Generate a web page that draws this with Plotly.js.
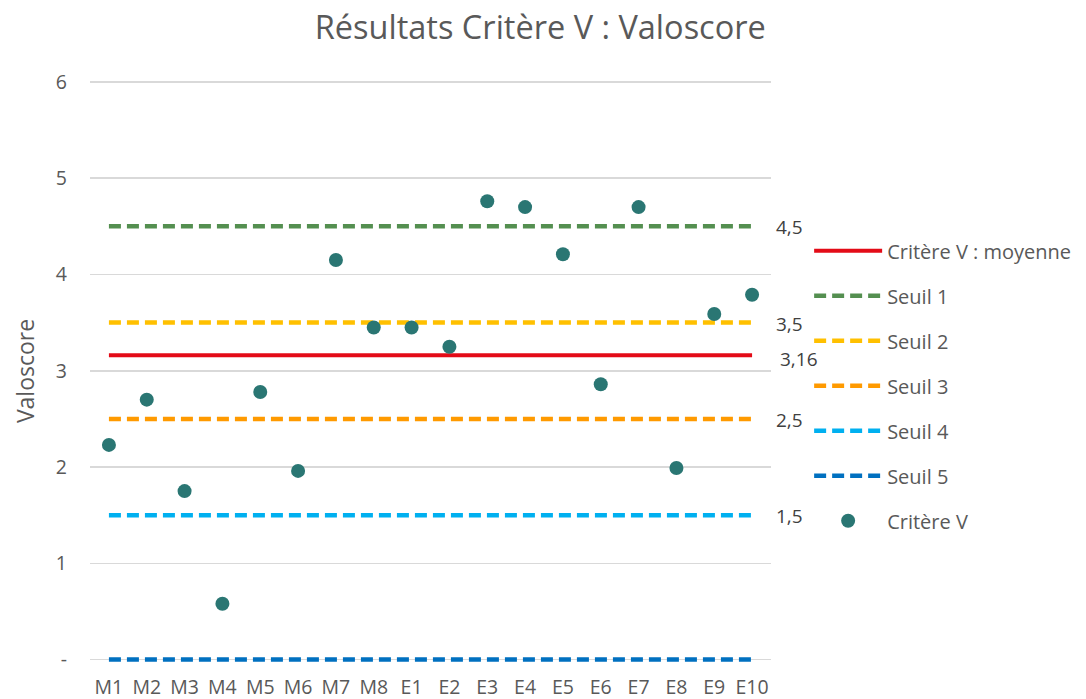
<!DOCTYPE html>
<html>
<head>
<meta charset="utf-8">
<script src="https://cdn.plot.ly/plotly-3.0.1.min.js"></script>
<style>html,body{margin:0;padding:0;background:#fff}#chart{width:1086px;height:699px}</style>
</head>
<body>
<div id="chart"></div>
<script>
const categories = ["M1","M2","M3","M4","M5","M6","M7","M8","E1","E2","E3","E4","E5","E6","E7","E8","E9","E10"];
const critereV = [2.23,2.70,1.75,0.58,2.78,1.96,4.15,3.45,3.45,3.25,4.76,4.70,4.21,2.86,4.70,1.99,3.59,3.79];
const moyenne = 3.16;
const seuilNames = ["Seuil 1","Seuil 2","Seuil 3","Seuil 4","Seuil 5"];
const seuilValues = [4.5,3.5,2.5,1.5,0];
const seuilColors = ["#548f50","#ffc000","#ff9a00","#00b0f0","#0070c0"];
const yTickVals = [0,1,2,3,4,5,6];
const yTickText = ["-","1","2","3","4","5","6"];

const FONT = "Open Sans, Noto Sans, sans-serif";
const fmt = v => String(v).replace(".", ",");

const traces = [];
traces.push({
  x: categories, y: categories.map(() => moyenne), type: "scatter", mode: "lines",
  name: "Critère V : moyenne", line: {color: "#e30b17", width: 4},
  legendgroup: "g0", hoverinfo: "skip"
});
seuilNames.forEach((n, i) => {
  traces.push({
    x: categories, y: categories.map(() => seuilValues[i]), type: "scatter", mode: "lines",
    name: n, line: {color: seuilColors[i], width: 4.5, dash: "12px,6px"},
    legendgroup: "g" + (i + 1), hoverinfo: "skip"
  });
});
traces.push({
  x: categories, y: critereV, type: "scatter", mode: "markers",
  name: "Critère V", marker: {color: "#2a7673", size: 14},
  legendgroup: "g6"
});

const annotations = [];
seuilValues.forEach((v, i) => {
  if (v === 0) return;
  annotations.push({x: categories[categories.length-1], y: v, xref: "x", yref: "y",
    text: fmt(v), showarrow: false, xanchor: "left", xshift: 22, yshift: -1,
    font: {family: FONT, size: 19, color: "#404040"}});
});
annotations.push({x: categories[categories.length-1], y: moyenne, xref: "x", yref: "y",
  text: fmt(moyenne), showarrow: false, xanchor: "left", xshift: 26, yshift: -4,
  font: {family: FONT, size: 19, color: "#404040"}});

const layout = {
  width: 1086, height: 699,
  margin: {l: 90, r: 315, t: 80, b: 37, autoexpand: false},
  paper_bgcolor: "#fff", plot_bgcolor: "#fff",
  font: {family: FONT, color: "#595959"},
  title: {text: "Résultats Critère V : Valoscore", x: 0.4975, xanchor: "center", y: 0.96, yanchor: "middle",
    font: {family: FONT, size: 32.5, color: "#595959"}},
  xaxis: {type: "category", range: [-0.5, 17.5], showgrid: false, zeroline: false, showline: false,
    ticks: "", ticklabelstandoff: 11, tickfont: {family: FONT, size: 19.5, color: "#595959"}, fixedrange: true},
  yaxis: {range: [-0.025, 6.02], tickvals: yTickVals, ticktext: yTickText, showgrid: true, gridcolor: "#d9d9d9",
    gridwidth: 1.5, zeroline: false, showline: false, ticks: "", ticklabelstandoff: 22,
    tickfont: {family: FONT, size: 19.5, color: "#595959"},
    title: {text: "Valoscore", standoff: 14, font: {family: FONT, size: 23, color: "#595959"}}},
  showlegend: true,
  legend: {x: 1.056, xanchor: "left", y: 0.74, yanchor: "top", traceorder: "grouped",
    tracegroupgap: 16, itemwidth: 68, font: {family: FONT, size: 20, color: "#595959"},
    bgcolor: "rgba(0,0,0,0)"},
  annotations: annotations
};

Plotly.newPlot("chart", traces, layout, {displayModeBar: false, staticPlot: true});
</script>
</body>
</html>
